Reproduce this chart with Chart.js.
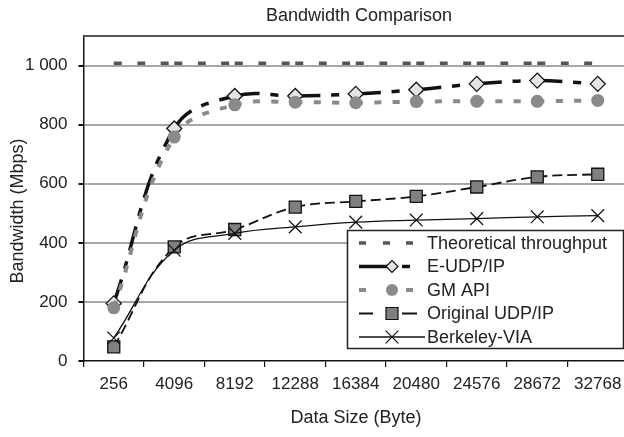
<!DOCTYPE html>
<html>
<head>
<meta charset="utf-8">
<script src="https://cdn.jsdelivr.net/npm/chart.js@4/dist/chart.umd.min.js"></script>
<style>
  body { margin: 0; background: #fff; }
  #wrap { width: 624px; height: 437px; overflow: hidden; }
</style>
</head>
<body>
<div id="wrap"><canvas id="grafico" width="640" height="437"></canvas></div>
<script>
// --- Datos ---
const categorias = ["256", "4096", "8192", "12288", "16384", "20480", "24576", "28672", "32768"];
const teorico = [1008, 1008, 1008, 1008, 1008, 1008, 1008, 1008, 1008];
const eUdp = [195, 787, 897, 897, 904, 918, 938, 949, 938];
const gmApi = [180, 758, 867, 876, 874, 878, 879, 879, 882];
const udpOriginal = [48, 386, 445, 521, 540, 557, 589, 623, 632];
const berkeley = [78, 375, 432, 454, 470, 477, 482, 488, 492];
const nombres = ["Theoretical throughput", "E-UDP/IP", "GM API", "Original UDP/IP", "Berkeley-VIA"];
const yMax = 1100;
const yPaso = 200;

const FUENTE = "'Liberation Sans', Arial, sans-serif";
Chart.defaults.font.family = FUENTE;
Chart.defaults.color = "#222";

// reiniciar el patrón de guiones en cada tramo (como Excel)
const porTramo = { borderDashOffset: c => c.p0DataIndex * 1e-6 };

function miles(v) {
  return String(v).replace(/\B(?=(\d{3})+(?!\d))/g, " ");
}

// --- Leyenda, títulos y borde ---
const extras = {
  id: "extras",
  beforeDatasetsDraw(chart) {
    const { ctx, chartArea } = chart;
    ctx.save();
    ctx.strokeStyle = "#555";
    ctx.lineWidth = 2;
    ctx.beginPath();
    ctx.moveTo(chartArea.left, chartArea.top);
    ctx.lineTo(chartArea.right + 2, chartArea.top);
    ctx.stroke();
    ctx.restore();
  },
  afterDraw(chart) {
    const ctx = chart.ctx;
    ctx.save();
    ctx.fillStyle = "#222";
    ctx.font = "18px " + FUENTE;
    ctx.textAlign = "center";
    ctx.textBaseline = "middle";
    ctx.fillText("Bandwidth Comparison", 359, 16);
    ctx.fillText("Data Size (Byte)", 356, 418);
    ctx.save();
    ctx.translate(18, 211);
    ctx.rotate(-Math.PI / 2);
    ctx.fillText("Bandwidth (Mbps)", 0, 0);
    ctx.restore();

    // caja de leyenda
    ctx.fillStyle = "#fff";
    ctx.strokeStyle = "#222";
    ctx.lineWidth = 1.5;
    ctx.fillRect(347.5, 230.5, 276, 118);
    ctx.strokeRect(347.5, 230.5, 276, 118);

    const dp = Chart.helpers.drawPoint;
    const seg = (x1, x2, y, color, w) => {
      ctx.strokeStyle = color;
      ctx.lineWidth = w;
      ctx.setLineDash([]);
      ctx.beginPath();
      ctx.moveTo(x1, y);
      ctx.lineTo(x2, y);
      ctx.stroke();
    };
    const marca = (estilo, r, relleno, borde, w, x, y) => {
      ctx.fillStyle = relleno;
      ctx.strokeStyle = borde;
      ctx.lineWidth = w;
      dp(ctx, { pointStyle: estilo, radius: r, borderWidth: w }, x, y);
    };
    let y = 243;
    const paso = 23.5;
    // Theoretical
    seg(359, 366, y, "#555", 3.5);
    seg(383, 390, y, "#555", 3.5);
    seg(406, 413, y, "#555", 3.5);
    // E-UDP
    y += paso;
    seg(359, 390, y, "#111", 3.5);
    seg(402, 410, y, "#111", 3.5);
    marca("rectRot", 6, "#e4e4e4", "#111", 1.2, 392, y);
    // GM API
    y += paso;
    seg(359, 366, y, "#8a8a8a", 4);
    seg(406, 413, y, "#8a8a8a", 4);
    marca("circle", 6, "#8a8a8a", "#8a8a8a", 0, 392, y);
    // Original
    y += paso;
    seg(359, 373, y, "#111", 2);
    seg(402, 417, y, "#111", 2);
    marca("rect", 8.5, "#808080", "#111", 1.2, 392, y);
    // Berkeley
    y += paso;
    seg(359, 425, y, "#111", 1.3);
    marca("crossRot", 9, "#111", "#111", 1.2, 392, y);

    ctx.fillStyle = "#222";
    ctx.font = "18px " + FUENTE;
    ctx.textAlign = "left";
    nombres.forEach((n, i) => ctx.fillText(n, 427, 244 + i * paso));
    ctx.restore();
  }
};

new Chart(document.getElementById("grafico"), {
  type: "line",
  data: {
    labels: categorias,
    datasets: [
      {
        label: nombres[0], data: teorico, order: 5,
        borderColor: "#555", borderWidth: 3.5, borderDash: [8, 15.5],
        borderCapStyle: "butt", pointRadius: 0, tension: 0.4, segment: porTramo
      },
      {
        label: nombres[1], data: eUdp, order: 4,
        borderColor: "#111", borderWidth: 3.5, borderDash: [25, 11, 8, 11],
        pointStyle: "rectRot", pointRadius: 7.5, pointBorderWidth: 1.3,
        pointBackgroundColor: "#e4e4e4", pointBorderColor: "#111",
        tension: 0.4, segment: porTramo
      },
      {
        label: nombres[2], data: gmApi, order: 3,
        borderColor: "#8a8a8a", borderWidth: 4, borderDash: [7, 11.5],
        pointStyle: "circle", pointRadius: 6.5, pointBorderWidth: 0,
        pointBackgroundColor: "#8a8a8a", pointBorderColor: "#8a8a8a",
        tension: 0.4, segment: porTramo
      },
      {
        label: nombres[3], data: udpOriginal, order: 2,
        borderColor: "#111", borderWidth: 1.8, borderDash: [10, 5],
        pointStyle: "rect", pointRadius: 8.5, pointBorderWidth: 1.3,
        pointBackgroundColor: "#808080", pointBorderColor: "#111",
        tension: 0.4, segment: porTramo
      },
      {
        label: nombres[4], data: berkeley, order: 1,
        borderColor: "#111", borderWidth: 1.3,
        pointStyle: "crossRot", pointRadius: 9, pointBorderWidth: 1.2,
        pointBorderColor: "#111",
        tension: 0.4
      }
    ]
  },
  options: {
    responsive: false,
    animation: false,
    layout: { autoPadding: false, padding: { top: 36, right: 12, left: 0, bottom: 0 } },
    plugins: {
      legend: { display: false },
      title: { display: false },
      tooltip: { enabled: false }
    },
    scales: {
      x: {
        offset: true,
        afterFit: s => { s.height = 76; },
        grid: {
          offset: true, drawOnChartArea: false, drawTicks: true,
          tickLength: 6, color: "#111", lineWidth: 1.2
        },
        border: { display: true, color: "#111", width: 1.5 },
        ticks: { font: { size: 17 }, color: "#222", padding: 7, maxRotation: 0, autoSkip: false }
      },
      y: {
        min: 0,
        max: yMax,
        afterFit: s => { s.width = 83.5; },
        afterBuildTicks: s => { s.ticks = s.ticks.filter(t => t.value <= 1000); },
        grid: {
          color: c => (c.tick && c.tick.value === 0 ? "rgba(0,0,0,0)" : "#a6a6a6"),
          lineWidth: 2, tickColor: "#111", tickLength: 5, drawTicks: true
        },
        border: { display: true, color: "#111", width: 1.5 },
        ticks: { stepSize: yPaso, font: { size: 17 }, color: "#222", padding: 11, callback: v => miles(v) }
      }
    }
  },
  plugins: [extras]
});
</script>
</body>
</html>
